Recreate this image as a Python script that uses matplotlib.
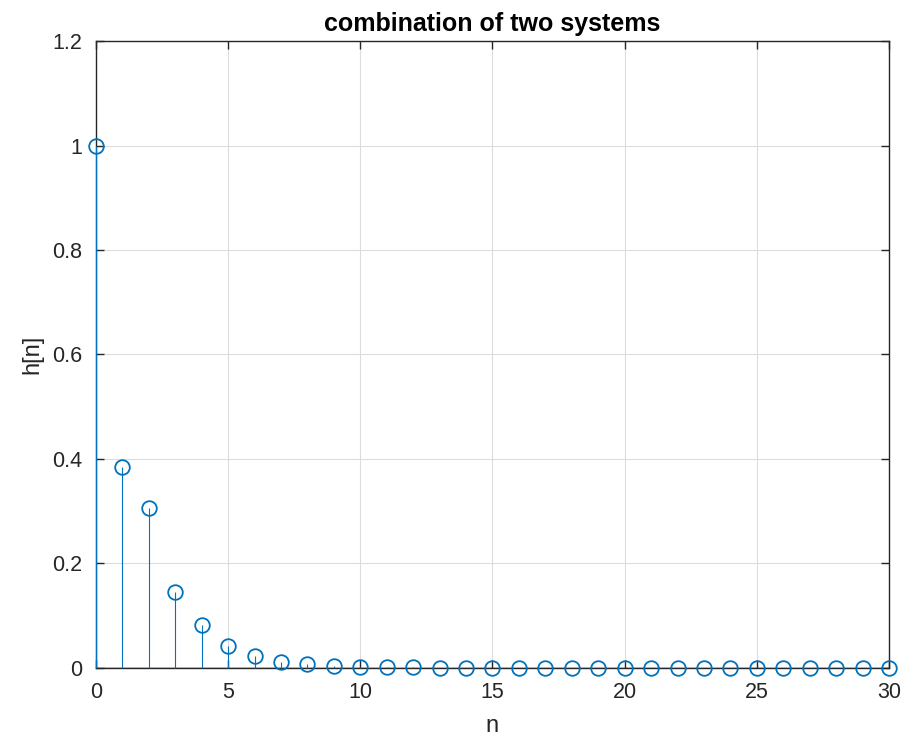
import numpy as np
import matplotlib
matplotlib.use("Agg")
import matplotlib.pyplot as plt

# impulse response of the combined system, n = 0..30
n = list(range(31))
h = [1.0, 0.385, 0.306, 0.145, 0.083, 0.042, 0.022, 0.012, 0.007, 0.004,
     0.0025, 0.0015, 0.001, 0.0006, 0.0004, 0.0002, 0.0001, 0.0001, 0.0, 0.0,
     0.0, 0.0, 0.0, 0.0, 0.0, 0.0, 0.0, 0.0, 0.0, 0.0, 0.0]

plt.rcParams['font.family'] = ['Liberation Sans', 'DejaVu Sans']

fig = plt.figure(figsize=(9.16, 7.39), dpi=100)
ax = fig.add_axes([0.1048, 0.0961, 0.8657, 0.8484])

blue = "#0072BD"
dark = "#262626"

markerline, stemlines, baseline = ax.stem(n, h, basefmt=" ")
plt.setp(stemlines, color=blue, linewidth=0.8, zorder=3.5, clip_on=False)
plt.setp(markerline, marker='o', markersize=10.5, markerfacecolor='none',
         markeredgecolor=blue, markeredgewidth=1.3, zorder=4, clip_on=False)
ax.axhline(0, color=dark, linewidth=1.0, zorder=3)

ax.set_xlim(0, 30)
ax.set_ylim(0, 1.2)
ax.set_xticks(np.arange(0, 31, 5))
ax.set_yticks(np.arange(0, 1.21, 0.2))
ax.set_yticklabels(["0", "0.2", "0.4", "0.6", "0.8", "1", "1.2"])

ax.grid(True, color="#dcdcdc", linewidth=0.8)
ax.set_axisbelow(True)
ax.tick_params(direction='in', length=6, width=1, colors=dark,
               labelsize=15.5, top=True, right=True, pad=10)
for s in ax.spines.values():
    s.set_color(dark)
    s.set_linewidth(1.0)

ax.set_title("combination of two systems", fontsize=18, fontweight='bold',
             color='black', pad=7)
ax.set_xlabel("n", fontsize=17, color=dark, labelpad=9)
ax.set_ylabel("h[n]", fontsize=17, color=dark, labelpad=6)

fig.savefig("out.png", dpi=100)
